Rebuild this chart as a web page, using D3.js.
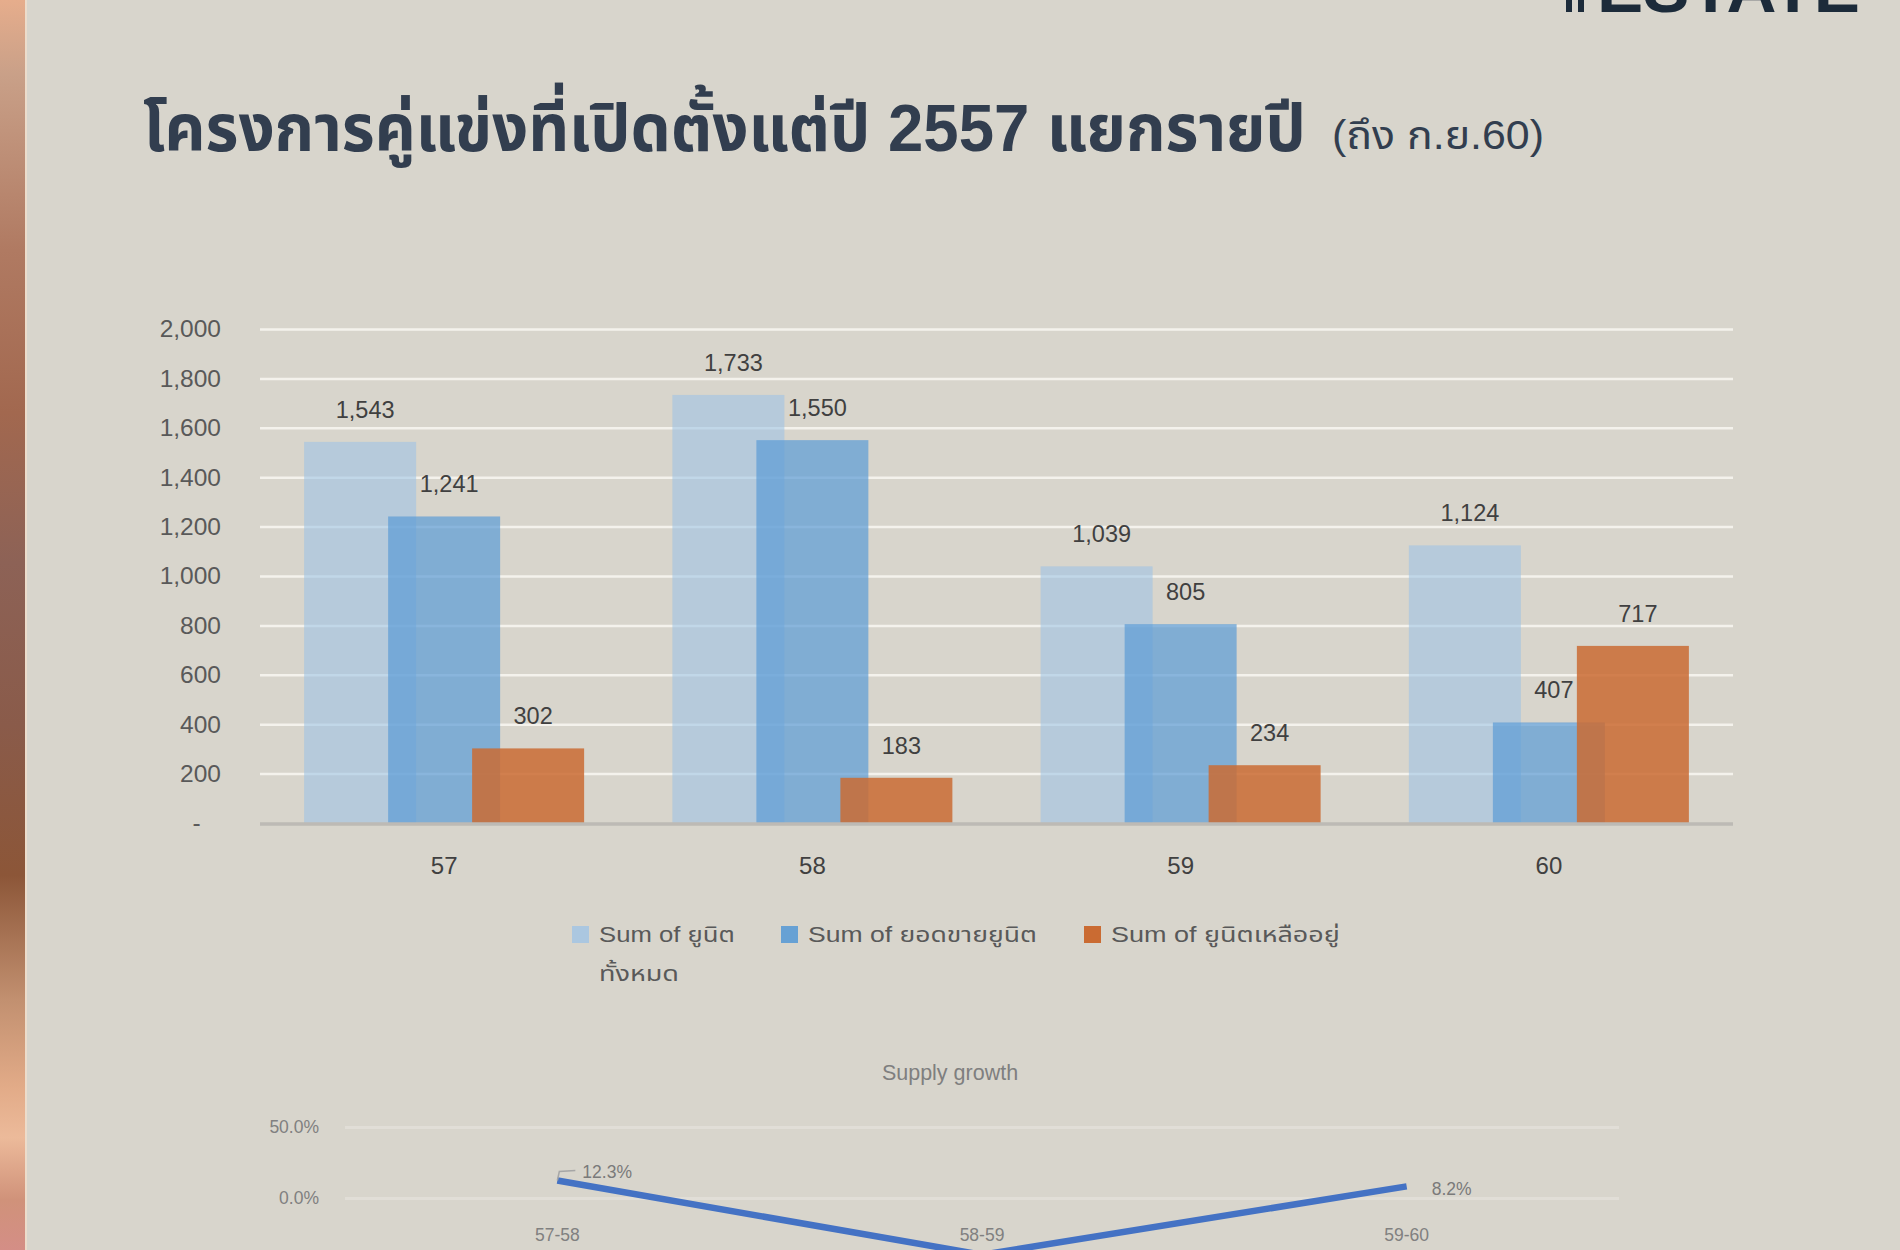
<!DOCTYPE html>
<html>
<head>
<meta charset="utf-8">
<script src="https://cdn.jsdelivr.net/npm/d3@7"></script>
<style>
  html, body { margin: 0; padding: 0; background: #d8d5cc; }
  svg { display: block; }
  text { font-family: "Liberation Sans", Arial, "Noto Sans Thai", "Noto Sans Thai UI", Loma, Garuda, Waree, sans-serif; }
</style>
</head>
<body>
<svg id="chart" width="1900" height="1250"></svg>
<script>
// ---------- data ----------
const titleMain = "โครงการคู่แข่งที่เปิดตั้งแต่ปี 2557 แยกรายปี";
const titleNote = "(ถึง ก.ย.60)";
const categories = ["57", "58", "59", "60"];
const seriesNames = ["Sum of ยูนิตทั้งหมด", "Sum of ยอดขายยูนิต", "Sum of ยูนิตเหลืออยู่"];
const legendLines = [["Sum of ยูนิต", "ทั้งหมด"], ["Sum of ยอดขายยูนิต"], ["Sum of ยูนิตเหลืออยู่"]];
const totalUnits = [1543, 1733, 1039, 1124];
const soldUnits = [1241, 1550, 805, 407];
const remainingUnits = [302, 183, 234, 717];
const yTicks = [0, 200, 400, 600, 800, 1000, 1200, 1400, 1600, 1800, 2000];

const growthTitle = "Supply growth";
const growthCategories = ["57-58", "58-59", "59-60"];
const growthValues = [12.3, -40.0, 8.2];
const growthTicks = [0, 50];

// ---------- setup ----------
const svg = d3.select("#chart");
const W = 1900, H = 1250;

// place a text and squeeze/stretch it horizontally to a target width (real geometry, no textLength)
function fitText(sel, x0, width) {
  const natural = sel.node().getComputedTextLength();
  const k = width / natural;
  sel.attr("x", 0).attr("transform", `translate(${x0},0) scale(${k},1)`);
  return sel;
}

svg.append("rect").attr("width", W).attr("height", H).attr("fill", "#d8d5cc");

// left decorative strip
const defs = svg.append("defs");
const grad = defs.append("linearGradient").attr("id", "strip").attr("x1", 0).attr("y1", 0).attr("x2", 0).attr("y2", 1);
[[0, "#e6ad8c"], [0.06, "#c9a088"], [0.2, "#b07a62"], [0.33, "#a2684f"], [0.45, "#8d6256"],
 [0.58, "#8a5b4a"], [0.7, "#8c5638"], [0.8, "#c29070"], [0.87, "#e2ab88"], [0.91, "#ecba9a"],
 [0.96, "#d0927a"], [1, "#d48e86"]].forEach(([o, c]) => grad.append("stop").attr("offset", o).attr("stop-color", c));
svg.append("rect").attr("x", 0).attr("y", 0).attr("width", 25).attr("height", H).attr("fill", "url(#strip)");
svg.append("rect").attr("x", 25).attr("y", 0).attr("width", 2).attr("height", H).attr("fill", "#ecdccb");

// logo fragment (top right, cut off by the page top as in the original)
const logo = svg.append("g").attr("fill", "#1c2b3a");
logo.append("rect").attr("x", 1566).attr("y", 0).attr("width", 6).attr("height", 12);
logo.append("rect").attr("x", 1578).attr("y", 0).attr("width", 6).attr("height", 12);
fitText(logo.append("text").attr("y", 12).attr("font-size", 66).attr("font-weight", "bold").text("ESTATE"), 1597, 263);

// title
fitText(svg.append("text").attr("y", 151).attr("font-size", 66).attr("font-weight", "bold").attr("fill", "#323e4f")
  .text(titleMain), 143, 1163);
fitText(svg.append("text").attr("y", 149).attr("font-size", 40).attr("fill", "#323e4f")
  .text(titleNote), 1332, 212);

// ---------- bar chart ----------
const plotL = 260, plotR = 1733, plotB = 823, plotT = 329;
const x = d3.scaleBand().domain(categories).range([plotL, plotR]);
const y = d3.scaleLinear().domain([0, 2000]).range([plotB, plotT]);

const yAxis = svg.append("g").attr("transform", `translate(${plotL},0)`)
  .call(d3.axisLeft(y).tickValues(yTicks).tickSize(-(plotR - plotL)).tickPadding(39)
    .tickFormat(d => d === 0 ? "-\u00a0\u00a0\u00a0" : d3.format(",")(d)));
yAxis.select(".domain").remove();
yAxis.selectAll(".tick line").attr("stroke", d => d === 0 ? "none" : "#f4f2ec").attr("stroke-width", 2.5);
yAxis.selectAll(".tick text").attr("font-size", 24.5).attr("fill", "#595959").style("white-space", "pre");

const series = [
  { name: seriesNames[0], values: totalUnits, fill: "#9dc3e6", opacity: 0.58 },
  { name: seriesNames[1], values: soldUnits, fill: "#5b9bd5", opacity: 0.7 },
  { name: seriesNames[2], values: remainingUnits, fill: "#ca6b32", opacity: 0.85 }
];
const barW = 112, barStep = 84;
const groupW = barW + barStep * (series.length - 1);

series.forEach((s, si) => {
  const g = svg.append("g");
  const bx = c => x(c) + x.bandwidth() / 2 - groupW / 2 + si * barStep;
  g.selectAll("rect").data(categories).join("rect")
    .attr("x", bx)
    .attr("y", (c, i) => y(s.values[i]))
    .attr("width", barW)
    .attr("height", (c, i) => y(0) - y(s.values[i]))
    .attr("fill", s.fill).attr("fill-opacity", s.opacity);
  s.bx = bx;
});

// baseline
svg.append("line").attr("x1", plotL).attr("x2", plotR).attr("y1", y(0) + 1).attr("y2", y(0) + 1)
  .attr("stroke", "#bdbab5").attr("stroke-width", 3.5);

// data labels
series.forEach(s => {
  svg.append("g").selectAll("text").data(categories).join("text")
    .attr("x", c => s.bx(c) + barW / 2 + 5)
    .attr("y", (c, i) => y(s.values[i]) - 24)
    .attr("text-anchor", "middle").attr("font-size", 23.5).attr("fill", "#404040")
    .text((c, i) => d3.format(",")(s.values[i]));
});

// x axis
const xAxis = svg.append("g").attr("transform", `translate(0,${plotB})`)
  .call(d3.axisBottom(x).tickSize(0).tickPadding(34));
xAxis.select(".domain").remove();
xAxis.selectAll(".tick text").attr("font-size", 24).attr("fill", "#404040");

// legend
const legendX = [572, 781, 1084];
const legendWidths = [[136, 80], [229], [229]];
series.forEach((s, i) => {
  const g = svg.append("g").attr("transform", `translate(${legendX[i]},926)`);
  g.append("rect").attr("width", 17).attr("height", 17).attr("fill", s.fill)
    .attr("fill-opacity", Math.min(1, s.opacity + 0.2));
  legendLines[i].forEach((ln, j) => {
    const t = g.append("text").attr("y", 16 + j * 39).attr("font-size", 22).attr("fill", "#595959").text(ln);
    fitText(t, 27, legendWidths[i][j]);
  });
});

// ---------- supply growth line chart ----------
const gL = 345, gR = 1619;
const x2 = d3.scaleBand().domain(growthCategories).range([gL, gR]);
const y2 = d3.scaleLinear().domain([-50, 50]).range([1269, 1127]);

svg.append("text").attr("x", 950).attr("y", 1080).attr("text-anchor", "middle")
  .attr("font-size", 21.5).attr("fill", "#7f7f7f").text(growthTitle);

const gyAxis = svg.append("g").attr("transform", `translate(${gL},0)`)
  .call(d3.axisLeft(y2).tickValues(growthTicks).tickSize(-(gR - gL)).tickPadding(26)
    .tickFormat(d => d3.format(".1%")(d / 100)));
gyAxis.select(".domain").remove();
gyAxis.selectAll(".tick line").attr("stroke", "#e1ded7").attr("stroke-width", 3);
gyAxis.selectAll(".tick text").attr("font-size", 17.5).attr("fill", "#808080");

const gxAxis = svg.append("g").attr("transform", "translate(0,1229)")
  .call(d3.axisBottom(x2).tickSize(0).tickPadding(0));
gxAxis.select(".domain").remove();
gxAxis.selectAll(".tick text").attr("font-size", 17.5).attr("fill", "#808080");

const pts = growthCategories.map((c, i) => ({ c, v: growthValues[i], px: x2(c) + x2.bandwidth() / 2, py: y2(growthValues[i]) }));
svg.append("path").datum(pts)
  .attr("d", d3.line().x(d => d.px).y(d => d.py))
  .attr("fill", "none").attr("stroke", "#4472c4").attr("stroke-width", 6.5);

// growth data labels (only those within view)
const labelShift = [-9, 0, 2.5];
pts.forEach((p, i) => {
  const ly = p.py + labelShift[i];
  if (ly > H - 5) return;
  svg.append("text").attr("x", p.px + 25).attr("y", ly + 6)
    .attr("font-size", 17.5).attr("fill", "#7a7a7a").text(d3.format(".1%")(p.v / 100));
  if (i === 0) {
    svg.append("path")
      .attr("d", d3.line()([[p.px, p.py], [p.px + 2, p.py - 9], [p.px + 18, p.py - 10]]))
      .attr("fill", "none").attr("stroke", "#a6a6a6").attr("stroke-width", 1.5);
  }
});
</script>
</body>
</html>
